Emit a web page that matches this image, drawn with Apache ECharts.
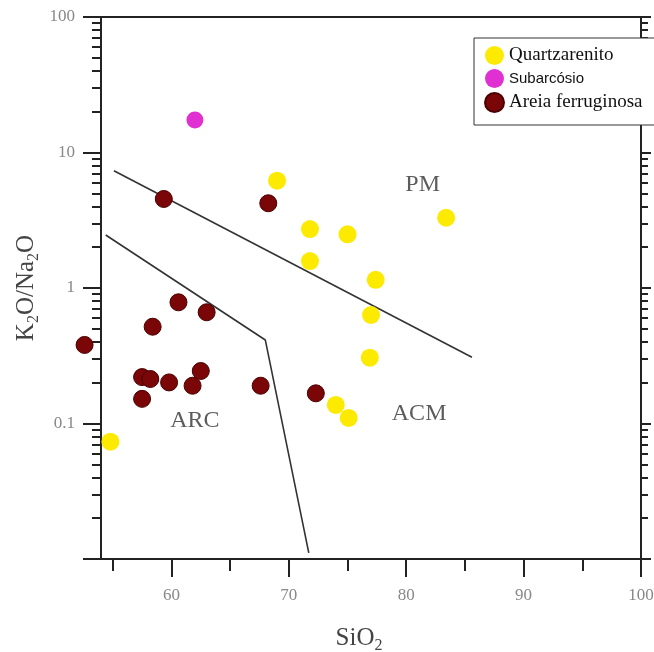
<!DOCTYPE html>
<html><head><meta charset="utf-8">
<script src="https://cdn.jsdelivr.net/npm/echarts@6/dist/echarts.min.js"></script>
<style>html,body{margin:0;padding:0;background:#fff}#c{width:654px;height:652px}</style>
</head><body><div id="c"></div>
<script>
// ---- data ----
const quartzarenito = [[54.8,0.0734],[69.0,6.19],[71.8,2.72],[75.0,2.49],[71.8,1.58],[77.4,1.15],[83.4,3.30],[77.0,0.632],[76.9,0.306],[74.0,0.137],[75.1,0.110]];
const subarcosio = [[62.0,17.4]];
const areiaFerruginosa = [[59.35,4.54],[68.25,4.22],[60.6,0.784],[63.0,0.662],[58.4,0.518],[52.6,0.380],[57.5,0.220],[58.2,0.213],[59.8,0.201],[62.5,0.244],[61.8,0.190],[57.5,0.152],[67.6,0.190],[72.3,0.167]];
const pmBoundary = [[55.1,7.34],[85.6,0.308]];
const arcBoundary = [[54.4,2.46],[68.0,0.413],[71.7,0.0111]];
const regionNames = ['PM','ARC','ACM'];
const regionX = [81.4, 62.0, 81.1];
const regionY = [5.75, 0.104, 0.119];
const xMajorTicks = [60,70,80,90,100];
const xTickLabels = ['60','70','80','90','100'];
const xMinorTicks = [55,65,75,85,95];
const yTickLabels = ['','0.1','1','10','100'];
const yMinorTicks = [0.02,0.03,0.04,0.05,0.06,0.07,0.08,0.09,0.2,0.3,0.4,0.5,0.6,0.7,0.8,0.9,2,3,4,5,6,7,8,9,20,30,40,50,60,70,80,90];
const legendNames = ['Quartzarenito','Subarcósio','Areia ferruginosa'];

const serif = 'Liberation Serif';
const sans = 'Liberation Sans';
const axisColor = '#222';
const yMinorLog = yMinorTicks.map(v => Math.log10(v));

const chart = echarts.init(document.getElementById('c'));
chart.setOption({
  animation: false,
  backgroundColor: '#fff',
  grid: {left: 101, right: 13, top: 17, bottom: 93, containLabel: false, outerBoundsMode: 'none'},
  legend: {
    left: 474, top: 38, orient: 'vertical',
    backgroundColor: '#fff', borderColor: '#333', borderWidth: 1,
    padding: [8, 20, 12, 10], itemGap: 4, itemWidth: 19, itemHeight: 19,
    icon: 'circle',
    data: [
      {name: legendNames[0], textStyle: {fontFamily: serif, fontSize: 19, color: '#111'}},
      {name: legendNames[1], textStyle: {fontFamily: sans, fontSize: 15, color: '#111'}},
      {name: legendNames[2], textStyle: {fontFamily: serif, fontSize: 19, color: '#111'}}
    ]
  },
  xAxis: [
    {type: 'value', min: 54, max: 100, position: 'bottom',
     name: 'SiO{s|2}', nameLocation: 'middle', nameGap: 64,
     nameTextStyle: {fontFamily: serif, fontSize: 25, color: '#444', padding: [0, 24, 0, 0],
       rich: {s: {fontFamily: serif, fontSize: 16, color: '#444', verticalAlign: 'bottom', padding: [15, 0, 0, 0]}}},
     axisLine: {show: true, onZero: false, lineStyle: {color: axisColor, width: 2}},
     axisTick: {show: true, length: 18, customValues: xMajorTicks, lineStyle: {color: axisColor, width: 2}},
     axisLabel: {show: true, customValues: xMajorTicks, margin: 28, fontFamily: serif, fontSize: 17, color: '#888',
       formatter: (v) => xTickLabels[xMajorTicks.indexOf(v)]},
     splitLine: {show: false}},
    {type: 'value', min: 54, max: 100, position: 'bottom', offset: 0,
     axisLine: {show: false, onZero: false},
     axisTick: {show: true, length: 12, customValues: xMinorTicks, lineStyle: {color: axisColor, width: 2}},
     axisLabel: {show: false}, splitLine: {show: false}},
    {type: 'value', min: 54, max: 100, position: 'top',
     axisLine: {show: true, onZero: false, lineStyle: {color: axisColor, width: 2}},
     axisTick: {show: false}, axisLabel: {show: false}, splitLine: {show: false}}
  ],
  yAxis: [
    {type: 'log', logBase: 10, min: 0.01, max: 100, position: 'left',
     name: 'K{s|2}O/Na{s|2}O', nameLocation: 'middle', nameGap: 59, nameRotate: 90, nameMoveOverlap: false,
     nameTextStyle: {fontFamily: serif, fontSize: 25, color: '#444',
       rich: {s: {fontFamily: serif, fontSize: 16, color: '#444', verticalAlign: 'bottom', padding: [15, 0, 0, 0]}}},
     axisLine: {show: true, onZero: false, lineStyle: {color: axisColor, width: 2}},
     axisTick: {show: true, length: 18, lineStyle: {color: axisColor, width: 2}},
     axisLabel: {show: true, margin: 26, fontFamily: serif, fontSize: 17, color: '#888',
       formatter: (v, i) => yTickLabels[i]},
     splitLine: {show: false}},
    {type: 'value', min: -2, max: 2, position: 'left', offset: 0,
     axisLine: {show: false, onZero: false},
     axisTick: {show: true, length: 9, customValues: yMinorLog, lineStyle: {color: axisColor, width: 2}},
     axisLabel: {show: false}, splitLine: {show: false}},
    {type: 'log', logBase: 10, min: 0.01, max: 100, position: 'right', offset: 0,
     axisLine: {show: true, onZero: false, lineStyle: {color: axisColor, width: 2}},
     axisTick: {show: true, length: 10, lineStyle: {color: axisColor, width: 2}},
     axisLabel: {show: false}, splitLine: {show: false}},
    {type: 'value', min: -2, max: 2, position: 'right', offset: 0,
     axisLine: {show: false, onZero: false},
     axisTick: {show: true, length: 7, customValues: yMinorLog, lineStyle: {color: axisColor, width: 2}},
     axisLabel: {show: false}, splitLine: {show: false}}
  ],
  series: [
    {type: 'line', data: pmBoundary, xAxisIndex: 0, yAxisIndex: 0, symbol: 'none', silent: true,
     lineStyle: {color: '#333', width: 1.6}, z: 1},
    {type: 'line', data: arcBoundary, xAxisIndex: 0, yAxisIndex: 0, symbol: 'none', silent: true,
     lineStyle: {color: '#333', width: 1.6}, z: 1},
    {type: 'scatter', name: 'Quartzarenito', data: quartzarenito, xAxisIndex: 0, yAxisIndex: 0,
     symbolSize: 18, clip: false, itemStyle: {color: '#FCEB00', opacity: 1}, z: 3},
    {type: 'scatter', name: 'Subarcósio', data: subarcosio, xAxisIndex: 0, yAxisIndex: 0,
     symbolSize: 17, clip: false, itemStyle: {color: '#E030D2', opacity: 1}, z: 3},
    {type: 'scatter', name: 'Areia ferruginosa', data: areiaFerruginosa, xAxisIndex: 0, yAxisIndex: 0,
     symbolSize: 17, clip: false, itemStyle: {color: '#7A0608', borderColor: '#4A0000', borderWidth: 1, opacity: 1}, z: 3},
    {type: 'scatter', name: 'regions', data: regionNames.map((n, i) => ({name: n, value: [regionX[i], regionY[i]]})),
     xAxisIndex: 0, yAxisIndex: 0, symbolSize: 0, silent: true,
     label: {show: true, position: 'inside', formatter: '{b}', fontFamily: serif, fontSize: 24, color: '#333'}, z: 2}
  ]
});
</script>
</body></html>
